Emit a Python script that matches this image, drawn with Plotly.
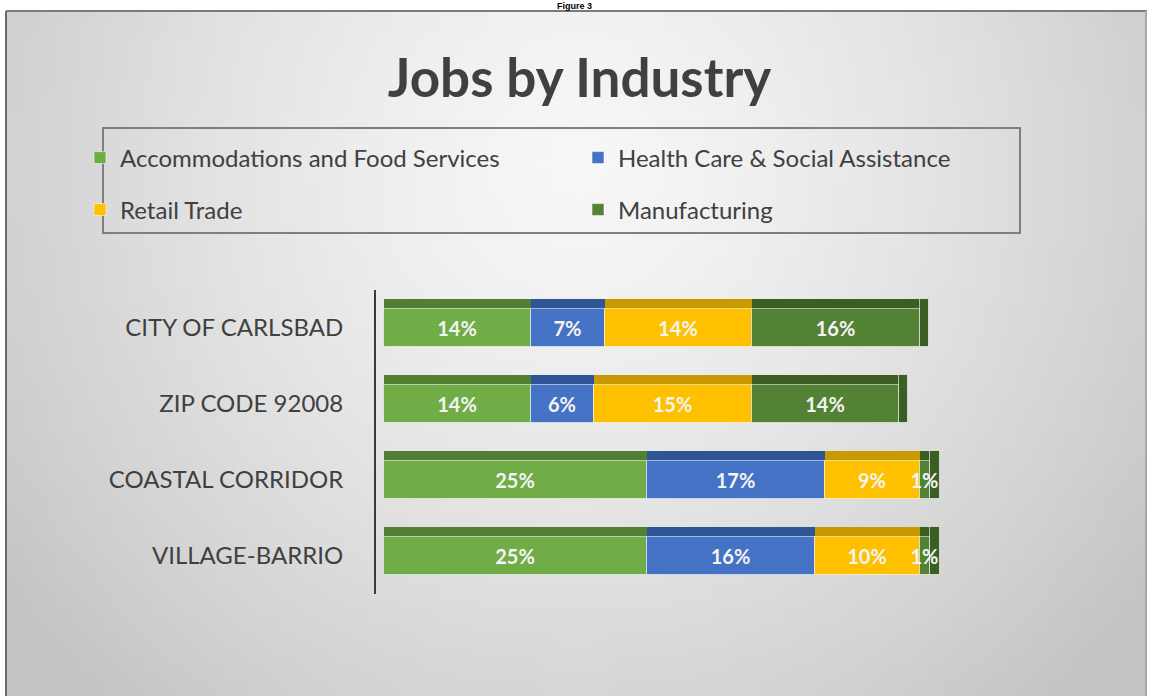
import base64
import struct
import zlib

import numpy as np
import plotly.graph_objects as go

# ---- data -------------------------------------------------------------
categories = ["CITY OF CARLSBAD", "ZIP CODE 92008", "COASTAL CORRIDOR", "VILLAGE-BARRIO"]
series_names = [
    "Accommodations and Food Services",
    "Health Care & Social Assistance",
    "Retail Trade",
    "Manufacturing",
]
accommodations = [14, 14, 25, 25]
health_care = [7, 6, 17, 16]
retail_trade = [14, 15, 9, 10]
manufacturing = [16, 14, 1, 1]

# ---- styling ----------------------------------------------------------
W, H = 1152, 696
front_colors = ["#70AD47", "#4472C4", "#FFC000", "#548235"]
top_colors = ["#537f35", "#2f5597", "#c99a00", "#3b5e25"]
legend_rows = ["legend", "legend", "legend2", "legend2"]
text_color = "#404040"
FONT = "Lato"


def gradient_png(w, h):
    """Soft grey background, lighter towards the upper middle."""
    u = np.linspace(0, 1, w)[None, :]
    v = np.linspace(0, 1, h)[:, None]
    d = np.sqrt(((u - 0.5) / 0.55) ** 2 + ((v - 0.22) / 0.95) ** 2)
    vals = 247 - 42 * np.clip(d, 0, 1.15) ** 1.4
    vals = np.clip(vals, 0, 255).astype(np.uint8)
    raw = b"".join(b"\x00" + row.tobytes() for row in vals)

    def chunk(tag, data):
        c = struct.pack(">I", len(data)) + tag + data
        return c + struct.pack(">I", zlib.crc32(tag + data) & 0xFFFFFFFF)

    png = b"\x89PNG\r\n\x1a\n"
    png += chunk(b"IHDR", struct.pack(">IIBBBBB", w, h, 8, 0, 0, 0, 0))
    png += chunk(b"IDAT", zlib.compress(raw, 9))
    png += chunk(b"IEND", b"")
    return "data:image/png;base64," + base64.b64encode(png).decode()


values = np.array([accommodations, health_care, retail_trade, manufacturing], dtype=float)
bases = np.vstack([np.zeros(values.shape[1]), np.cumsum(values, axis=0)[:-1]])
totals = values.sum(axis=0)

fig = go.Figure()

# darker top faces give the bars some depth
for i, name in enumerate(series_names):
    fig.add_trace(go.Bar(
        y=categories, x=values[i], base=bases[i], orientation="h",
        width=0.13, offset=-0.38,
        marker=dict(color=top_colors[i], line=dict(width=0)),
        showlegend=False, hoverinfo="skip",
    ))

# right-hand end caps of each stack (drawn before the labelled faces)
end_color = [top_colors[3]] * len(categories)
fig.add_trace(go.Bar(
    y=categories, x=[0.9] * len(categories), base=totals, orientation="h",
    width=0.63, offset=-0.38,
    marker=dict(color=end_color, line=dict(color="rgba(255,255,255,0.6)", width=1)),
    showlegend=False, hoverinfo="skip",
))

# front faces with percentage labels
for i, name in enumerate(series_names):
    fig.add_trace(go.Bar(
        y=categories, x=values[i], base=bases[i], orientation="h",
        name=name, legend=legend_rows[i],
        width=0.5, offset=-0.25,
        marker=dict(color=front_colors[i], line=dict(color="rgba(255,255,255,0.55)", width=1)),
        text=[f"{v:.0f}%" for v in values[i]],
        textposition="inside", insidetextanchor="middle", constraintext="none",
        textangle=0,
        textfont=dict(family=FONT, size=20, color="#f4f4f4", weight="bold"),
        cliponaxis=False,
    ))

x0_px, x1_px = 376, 1000
y_top_px, y_bot_px = 290, 594
legend_style = dict(
    orientation="h", x=80 / W, xanchor="left", yanchor="middle",
    entrywidth=453, entrywidthmode="pixels",
    bgcolor="rgba(0,0,0,0)", borderwidth=0,
    font=dict(family=FONT, size=24, color=text_color),
    traceorder="normal",
)

fig.update_layout(
    width=W, height=H,
    margin=dict(l=0, r=0, t=0, b=0),
    paper_bgcolor="white", plot_bgcolor="rgba(0,0,0,0)",
    barmode="overlay", bargap=0,
    title=dict(
        text="Jobs by Industry", x=0.503, xanchor="center",
        y=1 - 78 / H, yanchor="middle",
        font=dict(family=FONT, size=53, color=text_color, weight="bold"),
    ),
    xaxis=dict(
        domain=[x0_px / W, x1_px / W],
        range=[-0.8, (x1_px - x0_px) / 10.5 - 0.8],
        showgrid=False, zeroline=False, showticklabels=False, showline=False,
    ),
    yaxis=dict(
        domain=[1 - y_bot_px / H, 1 - y_top_px / H],
        categoryorder="array", categoryarray=categories,
        range=[3.5, -0.5],
        showgrid=False, zeroline=False,
        showline=True, linecolor="#3a3a3a", linewidth=2,
        ticks="outside", ticklen=26, tickcolor="rgba(0,0,0,0)",
        tickfont=dict(family=FONT, size=24, color=text_color),
    ),
    legend=dict(legend_style, y=1 - 158 / H),
    legend2=dict(legend_style, y=1 - 210 / H),
    images=[dict(
        source=gradient_png(96, 58), xref="paper", yref="paper",
        x=7 / W, y=1 - 12 / H, sizex=1 - 13 / W, sizey=1 - 12 / H,
        xanchor="left", yanchor="top", sizing="stretch", layer="below",
    )],
    shapes=[
        # chart frame
        dict(type="line", xref="paper", yref="paper", x0=6 / W, x1=6 / W, y0=0, y1=1 - 11 / H,
             line=dict(color="#6a6a6a", width=2)),
        dict(type="line", xref="paper", yref="paper", x0=6 / W, x1=1147 / W, y0=1 - 11 / H, y1=1 - 11 / H,
             line=dict(color="#7a7a7a", width=2)),
        dict(type="line", xref="paper", yref="paper", x0=1146 / W, x1=1146 / W, y0=0, y1=1 - 11 / H,
             line=dict(color="#a8a8a8", width=2)),
        # legend box
        dict(type="rect", xref="paper", yref="paper",
             x0=103 / W, x1=1020 / W, y0=1 - 233 / H, y1=1 - 128 / H,
             line=dict(color="#7f7f7f", width=2), fillcolor="rgba(0,0,0,0)"),
    ],
    annotations=[dict(
        text="<b>Figure 3</b>", xref="paper", yref="paper",
        x=574 / W, y=1, xanchor="center", yanchor="top",
        showarrow=False, borderpad=0,
        font=dict(family="Liberation Sans", size=9, color="black"),
    )],
)

fig.write_html("out.html")
